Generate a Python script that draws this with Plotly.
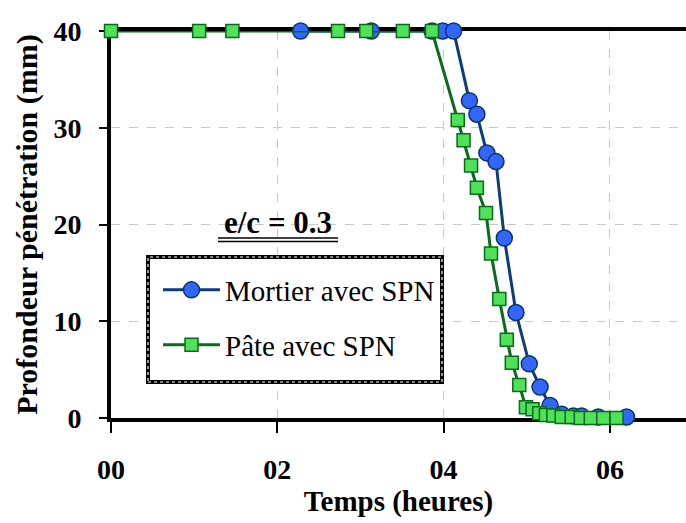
import plotly.graph_objects as go

# Data
mortier_x = [2.28, 3.13, 3.86, 3.99, 4.12, 4.31, 4.40, 4.52, 4.63, 4.73, 4.87, 5.03, 5.16, 5.28, 5.42, 5.56, 5.66, 5.86, 6.20]
mortier_y = [40, 40, 40, 40, 40, 32.8, 31.4, 27.4, 26.5, 18.6, 10.9, 5.6, 3.2, 1.3, 0.4, 0.2, 0.2, 0.1, 0.1]

pate_x = [0.0, 1.06, 1.46, 2.73, 3.07, 3.51, 3.86, 4.17, 4.24, 4.33, 4.40, 4.51, 4.57, 4.67, 4.76, 4.82, 4.91,
          4.99, 5.07, 5.15, 5.23, 5.32, 5.42, 5.54, 5.65, 5.77, 5.92, 6.08]
pate_y = [40, 40, 40, 40, 40, 40, 40, 30.8, 28.7, 26.1, 23.8, 21.2, 17.0, 12.3, 8.1, 5.7, 3.4,
          1.1, 0.9, 0.5, 0.3, 0.25, 0.1, 0.1, 0.0, 0.0, 0.0, 0.0]

x_tickvals = [0, 2, 4, 6]
x_ticktext = ["00", "02", "04", "06"]
y_tickvals = [0, 10, 20, 30, 40]

FONT = "Liberation Serif"

fig = go.Figure()
fig.add_trace(go.Scatter(
    x=mortier_x, y=mortier_y, mode="lines+markers", name="Mortier avec SPN",
    line=dict(color="#0b3c7c", width=3),
    marker=dict(symbol="circle", size=16, color="#3366ff", line=dict(color="#0b3566", width=1.5)),
    cliponaxis=False, legend="legend",
))
fig.add_trace(go.Scatter(
    x=pate_x, y=pate_y, mode="lines+markers", name="Pâte avec SPN",
    line=dict(color="#0a6b1c", width=3),
    marker=dict(symbol="square", size=13, color="#4fe157", line=dict(color="#0a6b1c", width=1.5)),
    cliponaxis=False, legend="legend2",
))

W, H = 686, 523
L, R, T, B = 111, 0, 31, 105
pw, ph = W - L - R, H - T - B

def px(xp):
    return (xp - L) / pw

def py(yp):
    return (H - B - yp) / ph

shapes = [
    dict(type="rect", xref="paper", yref="paper", x0=px(148), x1=px(442), y0=py(382), y1=py(257),
         fillcolor="white", line=dict(color="black", width=4), layer="above"),
    dict(type="rect", xref="paper", yref="paper", x0=px(148), x1=px(442), y0=py(382), y1=py(257),
         fillcolor="rgba(0,0,0,0)", line=dict(color="white", width=1.2, dash="dot"), layer="above"),
    dict(type="line", xref="paper", yref="paper", x0=px(218), x1=px(338), y0=py(238), y1=py(238),
         line=dict(color="black", width=1.6), layer="above"),
    dict(type="line", xref="paper", yref="paper", x0=px(218), x1=px(338), y0=py(241.5), y1=py(241.5),
         line=dict(color="black", width=1.6), layer="above"),
]

fig.update_layout(
    width=W, height=H,
    margin=dict(l=L, r=R, t=T, b=B, autoexpand=False),
    paper_bgcolor="white", plot_bgcolor="white",
    font=dict(family=FONT, color="black"),
    shapes=shapes,
    annotations=[dict(text="<b>e/c = 0.3</b>", xref="paper", yref="paper", x=px(278), y=py(222),
                      showarrow=False, font=dict(family=FONT, size=31, color="black"),
                      xanchor="center", yanchor="middle")],
    legend=dict(x=px(158), y=py(290), xanchor="left", yanchor="middle",
                bgcolor="rgba(0,0,0,0)", borderwidth=0, itemwidth=57,
                font=dict(family=FONT, size=29, color="black")),
    legend2=dict(x=px(158), y=py(345), xanchor="left", yanchor="middle",
                 bgcolor="rgba(0,0,0,0)", borderwidth=0, itemwidth=57,
                 font=dict(family=FONT, size=29, color="black")),
    showlegend=True,
)

fig.update_xaxes(
    range=[0, 6.915], tickvals=x_tickvals, ticktext=x_ticktext, automargin=False,
    showgrid=True, gridcolor="#c8c8c8", griddash="dash", gridwidth=1,
    showline=True, linecolor="black", linewidth=4, mirror=True,
    ticks="outside", ticklen=11, tickwidth=1.5, tickcolor="black",
    tickfont=dict(family=FONT, size=28, color="black", weight="bold"),
    zeroline=False, layer="below traces", ticklabelstandoff=12,
    title=dict(text="<b>Temps (heures)</b>", font=dict(family=FONT, size=29, color="black"), standoff=8),
)
fig.update_yaxes(
    range=[0, 40], tickvals=y_tickvals, automargin=False,
    showgrid=True, gridcolor="#c8c8c8", griddash="dash", gridwidth=1,
    showline=True, linecolor="black", linewidth=4, mirror=False,
    ticks="outside", ticklen=8, tickwidth=1.5, tickcolor="black",
    tickfont=dict(family=FONT, size=28, color="black", weight="bold"),
    zeroline=False, layer="below traces", ticklabelstandoff=12,
    title=dict(text="<b>Profondeur pénétration (mm)</b>", font=dict(family=FONT, size=30, color="black"), standoff=8),
)

fig.write_html("out.html", config={"displayModeBar": False},
               post_script="document.body.style.margin='0';document.body.style.padding='0';")
